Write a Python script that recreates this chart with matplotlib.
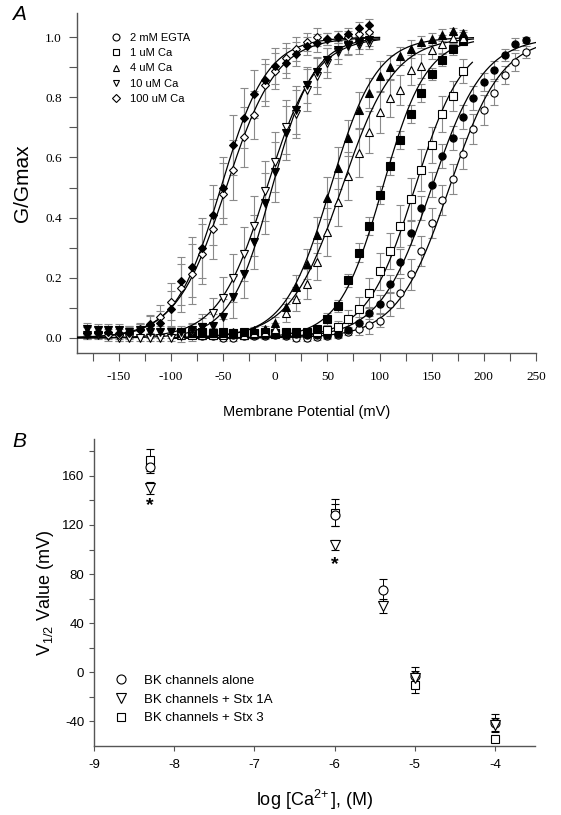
import numpy as np
import matplotlib.pyplot as plt
from matplotlib.lines import Line2D

plt.rcParams['font.family'] = ['Liberation Sans', 'DejaVu Sans']
plt.rcParams['axes.unicode_minus'] = False
plt.rcParams['mathtext.fontset'] = 'custom'
plt.rcParams['mathtext.rm'] = 'Liberation Sans'
plt.rcParams['mathtext.it'] = 'Liberation Sans:italic'

# ---------------- panel A data: G/Gmax vs test potential ----------------
v_dia = list(range(-180, 100, 10))    # test pulses for 100 uM / 10 uM Ca
v_tri = list(range(-90, 190, 10))     # test pulses for 1 uM / 4 uM Ca
v_egta = list(range(-90, 250, 10))    # test pulses for 2 mM EGTA

egta_open = [0.01, 0.01, 0.005, 0.005, 0.0, 0.0, 0.005, 0.005, 0.005, 0.01, 0.007, 0.0, 0.0, 0.003, 0.007,
             0.01, 0.02, 0.03, 0.044, 0.058, 0.113, 0.149, 0.211, 0.289, 0.383, 0.46, 0.527, 0.613, 0.693,
             0.758, 0.813, 0.873, 0.918, 0.951]
egta_open_err = [0.01] * 15 + [0.01, 0.01, 0.02, 0.03, 0.02, 0.04, 0.05, 0.05, 0.05, 0.05, 0.05, 0.05, 0.05,
                               0.05, 0.05, 0.04, 0.03, 0.03, 0.02]
egta_fill = [0.012, 0.015, 0.012, 0.01, 0.012, 0.01, 0.012, 0.01, 0.01, 0.012, 0.01, 0.012, 0.01, 0.01, 0.01,
             0.014, 0.027, 0.051, 0.082, 0.113, 0.18, 0.254, 0.349, 0.432, 0.51, 0.604, 0.666, 0.734, 0.799,
             0.851, 0.891, 0.94, 0.977, 0.991]
egta_fill_err = [0.01] * 15 + [0.01, 0.01, 0.02, 0.02, 0.03, 0.03, 0.04, 0.04, 0.04, 0.04, 0.04, 0.04, 0.04,
                               0.04, 0.03, 0.03, 0.02, 0.02, 0.01]

ca1_open = [0.015, 0.01, 0.015, 0.01, 0.015, 0.012, 0.01, 0.012, 0.015, 0.012, 0.015, 0.02, 0.015, 0.02, 0.025,
            0.038, 0.062, 0.096, 0.149, 0.221, 0.288, 0.371, 0.463, 0.558, 0.641, 0.743, 0.804, 0.888]
ca1_open_err = [0.01] * 15 + [0.02, 0.03, 0.04, 0.05, 0.06, 0.06, 0.07, 0.07, 0.07, 0.06, 0.06, 0.05, 0.04]
ca1_fill = [0.02, 0.015, 0.02, 0.015, 0.02, 0.015, 0.02, 0.015, 0.02, 0.015, 0.02, 0.015, 0.02,
            0.029, 0.062, 0.107, 0.191, 0.284, 0.373, 0.474, 0.573, 0.658, 0.743, 0.813, 0.877, 0.923, 0.96, 0.988]
ca1_fill_err = [0.01] * 13 + [0.01, 0.02, 0.02, 0.02, 0.03, 0.03, 0.03, 0.03, 0.03, 0.03, 0.03, 0.02, 0.02,
                              0.02, 0.01]

ca4_open = [0.01, 0.015, 0.01, 0.015, 0.01, 0.015, 0.01, 0.015, 0.02,
            0.03, 0.082, 0.129, 0.18, 0.254, 0.351, 0.451, 0.538, 0.616, 0.684, 0.751, 0.796, 0.824, 0.891,
            0.904, 0.957, 0.977, 0.996, 0.996]
ca4_open_err = [0.01] * 9 + [0.02, 0.03, 0.04, 0.05, 0.06, 0.08, 0.08, 0.08, 0.08, 0.07, 0.07, 0.06, 0.05,
                             0.05, 0.04, 0.03, 0.03, 0.02, 0.02]
ca4_fill = [0.015, 0.02, 0.015, 0.02, 0.015, 0.02, 0.02, 0.025, 0.03,
            0.049, 0.102, 0.169, 0.247, 0.343, 0.466, 0.566, 0.666, 0.757, 0.813, 0.869, 0.899, 0.936, 0.96,
            0.984, 0.993, 1.007, 1.019, 1.012]
ca4_fill_err = [0.01] * 9 + [0.02, 0.03, 0.04, 0.05, 0.06, 0.07, 0.07, 0.06, 0.06, 0.05, 0.05, 0.04, 0.03,
                             0.03, 0.02, 0.02, 0.02, 0.01, 0.01]

ca10_open = [0.01, 0.01, 0.005, 0.0, 0.0, 0.0, 0.0, 0.0, 0.0,
             0.005, 0.02, 0.038, 0.082, 0.132, 0.199, 0.28, 0.371, 0.488, 0.586, 0.702, 0.743, 0.824, 0.87,
             0.915, 0.95, 0.97, 0.975, 0.98]
ca10_open_err = [0.01] * 9 + [0.02, 0.03, 0.04, 0.05, 0.07, 0.08, 0.09, 0.1, 0.1, 0.1, 0.09, 0.08, 0.07,
                              0.06, 0.05, 0.04, 0.03, 0.03, 0.02]
ca10_fill = [0.03, 0.025, 0.025, 0.025, 0.02, 0.025, 0.02, 0.02, 0.021,
             0.02, 0.025, 0.035, 0.04, 0.07, 0.136, 0.213, 0.318, 0.447, 0.551, 0.682, 0.758, 0.84, 0.884,
             0.924, 0.958, 0.973, 0.98, 0.991]
ca10_fill_err = [0.02] * 9 + [0.02, 0.02, 0.03, 0.04, 0.06, 0.07, 0.08, 0.09, 0.1, 0.1, 0.09, 0.08, 0.06,
                              0.05, 0.04, 0.03, 0.03, 0.02, 0.02]

ca100_open = [0.015, 0.015, 0.01, 0.01, 0.015, 0.03,
              0.043, 0.071, 0.121, 0.166, 0.212, 0.28, 0.362, 0.48, 0.558, 0.669, 0.74, 0.84, 0.888, 0.93,
              0.96, 0.985, 1.0, 0.995, 1.0, 1.0, 1.01, 1.017]
ca100_fill = [0.015, 0.02, 0.02, 0.015, 0.02, 0.025,
              0.045, 0.051, 0.096, 0.188, 0.235, 0.299, 0.408, 0.5, 0.64, 0.73, 0.81, 0.857, 0.905, 0.915,
              0.943, 0.969, 0.98, 0.995, 1.0, 1.01, 1.03, 1.04]
ca100_err = [0.02] * 6 + [0.03, 0.04, 0.06, 0.08, 0.1, 0.1, 0.1, 0.1, 0.1, 0.1, 0.08, 0.07, 0.06, 0.05,
                          0.04, 0.03, 0.03, 0.02, 0.02, 0.02, 0.02, 0.02]

# Boltzmann fit parameters (V1/2 in mV, slope k in mV)
fit_vhalf = {'egta_o': 167, 'egta_f': 150, 'ca1_o': 134, 'ca1_f': 103, 'ca4_o': 64, 'ca4_f': 53,
             'ca10_o': -8, 'ca10_f': -3, 'ca100_o': -47, 'ca100_f': -52}
fit_k = {'egta_o': 25, 'egta_f': 25, 'ca1_o': 23, 'ca1_f': 21, 'ca4_o': 25, 'ca4_f': 22,
         'ca10_o': 23, 'ca10_f': 20, 'ca100_o': 24, 'ca100_f': 22}

legend_a = ['2 mM EGTA', '1 uM Ca', '4 uM Ca', '10 uM Ca', '100 uM Ca']

# ---------------- panel B data: V1/2 vs log[Ca] ----------------
logca = [-8.3, -6, -5.4, -5, -4]
v_alone = [167, 128, 67, -3, -41]
v_alone_err = [5, 9, 9, 7, 7]
v_stx1a = [150, 104, 54, -5, -43]
v_stx1a_err = [5, 4, 6, 6, 6]
logca_stx3 = [-8.3, -6, -5, -4]
v_stx3 = [173, 130, -10, -54]
v_stx3_err = [9, 11, 7, 3]
star_x = [-8.3, -6]
star_y = [136, 88]
legend_b = ['BK channels alone', 'BK channels + Stx 1A', 'BK channels + Stx 3']

# ========================================================================
fig = plt.figure(figsize=(5.61, 8.15), dpi=100)
axA = fig.add_axes([77 / 561, 1 - 353 / 815, 459 / 561, 340 / 815])

series = [
    (v_egta, egta_open, egta_open_err, 'o', False, 'egta_o', (-100, 250)),
    (v_egta, egta_fill, egta_fill_err, 'o', True, 'egta_f', (-100, 250)),
    (v_tri, ca1_open, ca1_open_err, 's', False, 'ca1_o', (-100, 189)),
    (v_tri, ca1_fill, ca1_fill_err, 's', True, 'ca1_f', (-100, 190)),
    (v_tri, ca4_open, ca4_open_err, '^', False, 'ca4_o', (-100, 190)),
    (v_tri, ca4_fill, ca4_fill_err, '^', True, 'ca4_f', (-100, 190)),
    (v_dia, ca10_open, ca10_open_err, 'v', False, 'ca10_o', (-190, 100)),
    (v_dia, ca10_fill, ca10_fill_err, 'v', True, 'ca10_f', (-190, 100)),
    (v_dia, ca100_open, ca100_err, 'D', False, 'ca100_o', (-190, 100)),
    (v_dia, ca100_fill, ca100_err, 'D', True, 'ca100_f', (-190, 100)),
]

for v, g, e, m, filled, key, (f0, f1) in series:
    axA.errorbar(v, g, yerr=e, fmt='none', ecolor='#8a8a8a', elinewidth=0.8,
                 capsize=3, capthick=0.8, zorder=2)
for v, g, e, m, filled, key, (f0, f1) in series:
    vv = np.linspace(f0, f1, 300)
    axA.plot(vv, 1 / (1 + np.exp((fit_vhalf[key] - vv) / fit_k[key])), color='black', lw=0.9, zorder=3)
for v, g, e, m, filled, key, (f0, f1) in series:
    ms = 4.2 if m == 'D' else 5.2
    axA.plot(v, g, ls='none', marker=m, ms=ms, mec='black', mew=0.8,
             mfc='black' if filled else 'white', zorder=4)

axA.set_xlim(-190, 250)
axA.set_ylim(-0.05, 1.08)
axA.set_xticks([-150, -100, -50, 0, 50, 100, 150, 200, 250])
axA.set_xticks(np.arange(-175, 250, 50), minor=True)
axA.set_yticks([0.0, 0.2, 0.4, 0.6, 0.8, 1.0])
axA.set_yticks([0.1, 0.3, 0.5, 0.7, 0.9], minor=True)
axA.set_yticklabels(['0.0', '0.2', '0.4', '0.6', '0.8', '1.0'])
for lab in axA.get_xticklabels() + axA.get_yticklabels():
    lab.set_family('Liberation Serif')
    lab.set_fontsize(9.5)
axA.tick_params(which='both', direction='out', length=6, width=0.8, color='#555555')
axA.tick_params(axis='y', pad=5)
axA.tick_params(axis='x', pad=7)
axA.spines['top'].set_visible(False)
axA.spines['right'].set_visible(False)
for s in ['left', 'bottom']:
    axA.spines[s].set_color('#555555')
    axA.spines[s].set_linewidth(1.0)
axA.set_xlabel('Membrane Potential (mV)', fontsize=10.5, labelpad=16)
axA.set_ylabel('G/Gmax', fontsize=15, labelpad=9)

hA = [Line2D([], [], ls='none', marker=m, ms=5 if m != 'D' else 4.2, mec='black', mfc='white', mew=0.8)
      for m in ['o', 's', '^', 'v', 'D']]
axA.legend(hA, legend_a, loc='upper left', bbox_to_anchor=(0.06, 0.955), frameon=False,
           fontsize=8, handletextpad=0.7, labelspacing=0.48, handlelength=1.2, borderaxespad=0)

fig.text(12 / 561, 1 - 20 / 815, 'A', fontsize=15, style='italic')

# ---------------- panel B ----------------
axB = fig.add_axes([94 / 561, 1 - 746 / 815, 441 / 561, 307 / 815])
axB.errorbar(logca_stx3, v_stx3, yerr=v_stx3_err, fmt='s', ms=6, mfc='white', mec='black', mew=0.8,
             ecolor='black', elinewidth=0.7, capsize=3, capthick=0.7, zorder=3)
axB.errorbar(logca, v_alone, yerr=v_alone_err, fmt='o', ms=6.5, mfc='white', mec='black', mew=0.8,
             ecolor='black', elinewidth=0.7, capsize=3, capthick=0.7, zorder=3)
axB.errorbar(logca, v_stx1a, yerr=v_stx1a_err, fmt='v', ms=6.5, mfc='white', mec='black', mew=0.8,
             ecolor='black', elinewidth=0.7, capsize=3, capthick=0.7, zorder=3)
for sx, sy in zip(star_x, star_y):
    axB.text(sx, sy, '*', ha='center', va='center', fontsize=14, fontweight='bold')

axB.set_xlim(-9, -3.5)
axB.set_ylim(-60, 190)
axB.set_xticks([-9, -8, -7, -6, -5, -4])
axB.set_yticks([-40, 0, 40, 80, 120, 160])
axB.set_yticks([-20, 20, 60, 100, 140, 180], minor=True)
axB.tick_params(which='both', direction='out', length=3.5, width=0.8, color='#555555', labelsize=9.5)
axB.tick_params(axis='x', pad=6)
axB.spines['top'].set_visible(False)
axB.spines['right'].set_visible(False)
for s in ['left', 'bottom']:
    axB.spines[s].set_color('#555555')
    axB.spines[s].set_linewidth(1.0)
axB.set_xlabel(r'log [Ca$^{2\!+}$], (M)', fontsize=13, labelpad=12)
axB.set_ylabel(r'V$_{1/2}$ Value (mV)', fontsize=13, labelpad=4)

hB = [Line2D([], [], ls='none', marker=m, ms=6.5 if m != 's' else 6, mec='black', mfc='white', mew=0.8)
      for m in ['o', 'v', 's']]
axB.legend(hB, legend_b, loc='upper left', bbox_to_anchor=(0.035, 0.25), frameon=False,
           fontsize=9.5, handletextpad=1.2, labelspacing=0.5, handlelength=1.0, borderaxespad=0)

fig.text(12 / 561, 1 - 447 / 815, 'B', fontsize=15, style='italic')

fig.savefig('out.png', dpi=100)
